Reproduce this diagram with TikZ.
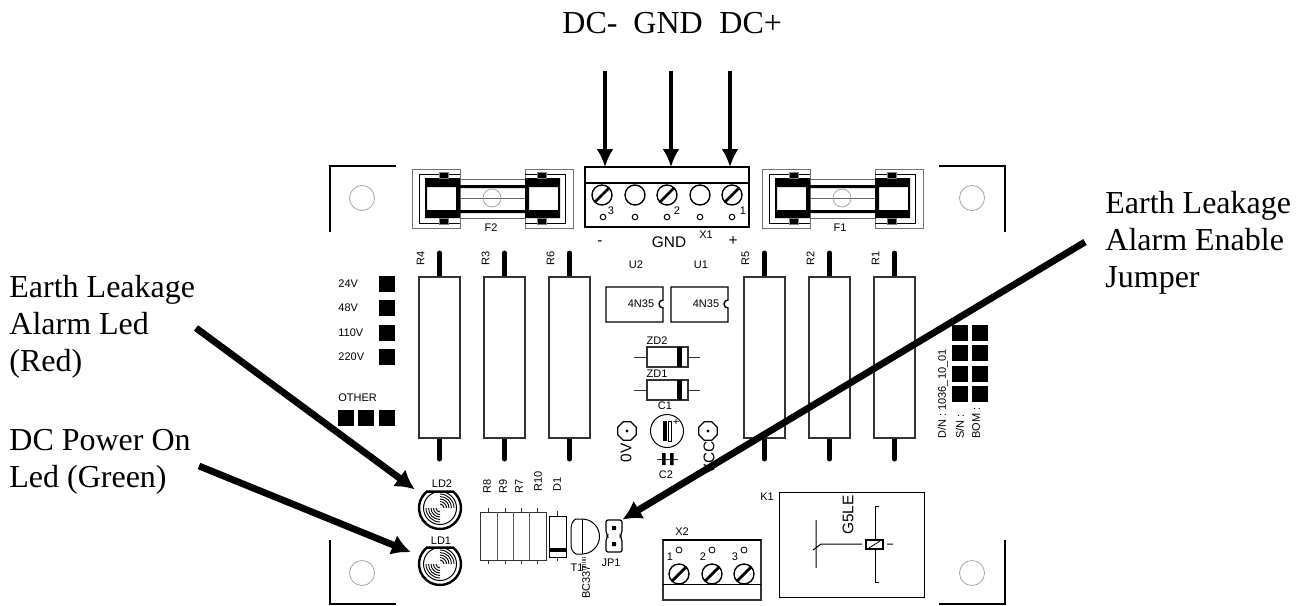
\documentclass[tikz,border=0pt]{standalone}
\usepackage{fontspec}
\setmainfont{Liberation Serif}
\setsansfont{Liberation Sans}
\usetikzlibrary{arrows.meta,shapes.geometric}

\tikzset{
  part label/.style={font=\sffamily\fontsize{5.5}{6.5}\selectfont,inner sep=0pt},
  big part label/.style={font=\sffamily\fontsize{7.7}{9}\selectfont,inner sep=0pt},
  callout/.style={font=\fontsize{16}{18.5}\selectfont,align=left,anchor=north west,inner sep=0pt},
  title node/.style={font=\fontsize{16}{18.5}\selectfont,anchor=base west,inner sep=0pt},
  outline/.style={draw=black!80,line width=.7pt},
  hole/.style={draw=black!35,line width=.4pt},
  corner/.style={line width=.75pt},
  square pad/.style={fill=black,minimum size=8pt,inner sep=0pt},
  lead/.style={line width=2.5pt,line cap=round},
  thin lead/.style={draw=black!80,line width=.5pt},
  feed arrow/.style={line width=1.6pt,-{Latex[length=9pt,width=8.5pt]}},
  pointer/.style={line width=3.4pt,-{Latex[length=9.5pt,width=10.5pt]}},
  led node/.style={circle,minimum size=21pt,inner sep=0pt},
  test pad/.style={regular polygon,regular polygon sides=8,draw,line width=.6pt,minimum size=10pt,inner sep=0pt},
  pics/screw/.style={code={
    \draw[line width=.7pt] (0,0) circle (10);
    \draw[line width=1.4pt] (-7,7) -- (7,-7);
  }},
  pics/led lamp/.style={code={
    \draw[line width=1.2pt] (-51:21) arc (-51:231:21) -- cycle;
    \draw[line width=.5pt] (0,0) circle (16.5);
    \foreach \r in {4,6.5,9,11.5,14} {
      \draw[line width=.45pt] (-90:\r) arc (-90:0:\r);
      \draw[line width=.45pt] (90:\r) arc (90:180:\r);
    }
  }},
  pics/fuse/.style={code={
    \draw[draw=black!55,line width=.5pt] (412,169) rectangle (460,228) (525,169) rectangle (573,228);
    \draw[line width=.5pt] (460,174) -- (419,174) -- (419,223) -- (460,223)
                           (525,174) -- (565,174) -- (565,223) -- (525,223);
    \fill[even odd rule] (425,178) rectangle (460,218) (427,187) rectangle (456,210);
    \fill[even odd rule] (525,178) rectangle (560,218) (529,187) rectangle (558,210);
    \draw[draw=black!50,fill=black,line width=.3pt] (439,172) rectangle (448,178) (439,218) rectangle (448,224)
                                                    (537,172) rectangle (546,178) (537,218) rectangle (546,224);
    \draw[draw=black!60,line width=.5pt] (460,179) -- (525,179) (460,198) -- (525,198) (460,218) -- (525,218);
    \fill (460,185) rectangle (525,188) (460,210) rectangle (525,213);
    \draw[hole] (492,198) circle (9);
  }}
}

\begin{document}
\begin{tikzpicture}[x=.5pt,y=-.5pt]
  \useasboundingbox (0,0) rectangle (1304,605);

  \draw[corner] (396,166) -- (330,166) -- (330,232);
  \draw[corner] (939,166) -- (1005,166) -- (1005,232);
  \draw[corner] (330,540) -- (330,604) -- (396,604);
  \draw[corner] (1005,540) -- (1005,604) -- (939,604);
  \foreach \hx/\hy in {362/198,972/198,362/573,972/573}
    \draw[hole] (\hx,\hy) circle (12.5);

  \pic at (0,0) {fuse};
  \pic at (350,0) {fuse};
  \node[part label] (f2) at (491,228) {F2};
  \node[part label] (f1) at (840,228) {F1};

  \draw[line width=.8pt] (585,167) rectangle (749,227);
  \draw[line width=.6pt] (585,183) -- (749,183);
  \foreach \sx in {602,667,732}
    \pic at (\sx,195) {screw};
  \foreach \sx in {635,700}
    \draw[line width=.7pt] (\sx,195) circle (10);
  \foreach \sx in {603,635,667,700,732}
    \draw[line width=.5pt] (\sx,217) circle (2.8);
  \node[part label] (x1 three) at (611,211) {3};
  \node[part label] (x1 two) at (677,211) {2};
  \node[part label] (x1 one) at (743,211) {1};
  \node[part label] (x1) at (706,235) {X1};
  \node[big part label] (x1 gnd) at (669,242) {GND};
  \node[big part label] (x1 minus) at (600,243) {-};
  \node[big part label] (x1 plus) at (733,241) {+};

  \foreach \rname/\rx in {R4/419,R3/484,R6/549,R5/744,R2/809,R1/874} {
    \draw[lead] (\rx+20.5,253) -- (\rx+20.5,277) (\rx+20.5,438) -- (\rx+20.5,459);
    \draw[outline,fill=white] (\rx,277) rectangle (\rx+41,438);
    \node[part label,rotate=90] (\rname) at (\rx+1.5,258) {\rname};
  }

  \foreach \vname/\vy in {24V/284,48V/308,110V/333,220V/357} {
    \node[part label,anchor=west] (v\vname) at (338,\vy) {\vname};
    \node[square pad] (pad\vname) at (387,\vy) {};
  }
  \node[part label,anchor=west] (other) at (338,398) {OTHER};
  \foreach \ox in {346,366,387}
    \node[square pad] (other\ox) at (\ox,418) {};

  \foreach \uname/\ux/\lx in {U2/606/636,U1/671/701} {
    \draw[line width=.7pt] (\ux,287) -- (\ux+57,287) -- (\ux+57,300) arc (-90:-270:4) -- (\ux+57,322) -- (\ux,322) -- cycle;
    \node[part label] (\uname) at (\lx,265) {\uname};
    \node[part label] (\uname type) at (\ux+35,304) {4N35};
  }

  \foreach \zname/\zy in {ZD2/357,ZD1/390} {
    \draw[thin lead] (634,\zy) -- (647,\zy) (688,\zy) -- (700,\zy);
    \draw[outline,line width=.6pt] (647,\zy-10) rectangle (688,\zy+10);
    \fill (677,\zy-10) rectangle (682,\zy+10);
    \node[part label] (\zname) at (657,\zy-16) {\zname};
  }

  \node[part label] (c1) at (665,406) {C1};
  \draw[line width=.5pt] (667,431) circle (16.5);
  \fill (662.5,421) rectangle (666.5,441);
  \draw[line width=.4pt] (668.5,421) rectangle (671.5,441);
  \node[part label] (c1 plus) at (676,422) {+};
  \draw[thin lead] (657,459) -- (678,459);
  \fill (662,453) rectangle (665.5,465) (670,453) rectangle (673.5,465);
  \node[part label] (c2) at (666,475) {C2};

  \node[test pad] (pad0v) at (627,431) {};
  \node[test pad] (padvcc) at (708,431) {};
  \fill (627,431) circle (1.6) (708,431) circle (1.6);
  \node[big part label,rotate=90] (zero volt) at (626,453) {0V};
  \node[big part label,rotate=90] (vcc) at (709,458) {VCC};

  \node[led node] (ld2) at (440,508) {};
  \node[led node] (ld1) at (440,564) {};
  \pic at (ld2) {led lamp};
  \pic at (ld1) {led lamp};
  \node[part label] (ld2 text) at (442,484) {LD2};
  \node[part label] (ld1 text) at (441,541) {LD1};

  \draw[outline,line width=.5pt] (480,512) rectangle (546,560);
  \foreach \dx in {497,513,529}
    \draw[draw=black!65,line width=.5pt] (\dx,512) -- (\dx,560);
  \foreach \dx in {488,505,521,537}
    \draw[thin lead] (\dx,508) -- (\dx,512) (\dx,560) -- (\dx,564);
  \node[part label,rotate=90] (r8) at (487,486) {R8};
  \node[part label,rotate=90] (r9) at (503,486) {R9};
  \node[part label,rotate=90] (r7) at (519,486) {R7};
  \node[part label,rotate=90] (r10) at (538,481) {R10};
  \node[part label,rotate=90] (d1) at (557,484) {D1};

  \draw[thin lead] (557,511) -- (557,516) (557,557) -- (557,561);
  \draw[line width=.45pt] (549,516) rectangle (566,557);
  \fill (549,548) rectangle (566,552);

  \draw[line width=.5pt] (582,519) arc (-90:90:17.5) -- (576,554) .. controls (572,552) and (571,548) .. (571,544) -- (571,529) .. controls (571,524) and (573,520) .. (576,519) -- cycle;
  \draw[line width=.5pt] (582,519) -- (582,554);
  \draw[draw=black!55,line width=2pt,dash pattern=on .35pt off .5pt] (584,557) -- (584,570);
  \node[part label] (t1) at (577,568) {T1};
  \node[part label,rotate=90] (bc337) at (586,582) {BC337};

  \node[minimum width=8pt,minimum height=16pt,inner sep=0pt] (jp1) at (614,536) {};
  \draw[line width=.6pt,rounded corners=1pt] (606,520) -- (622,520) -- (622,533) -- (620,536) -- (622,539) -- (622,552) -- (606,552) -- (606,539) -- (608,536) -- (606,533) -- cycle;
  \fill (612,526) rectangle (616,530) (612,542) rectangle (616,546);
  \node[part label] (jp1 text) at (611,563) {JP1};

  \draw[outline] (663,540) rectangle (761,600);
  \draw[line width=1.2pt] (663,540) -- (761,540);
  \draw[line width=.5pt] (663,584) -- (761,584);
  \foreach \sx/\sn/\lx in {679/1/670,712/2/703,744/3/735} {
    \pic at (\sx,574) {screw};
    \draw[line width=.4pt] (\sx,550) circle (3);
    \node[part label] (x2 \sn) at (\lx,557) {\sn};
  }
  \node[part label] (x2) at (682,532) {X2};

  \draw[line width=.5pt] (779,492) rectangle (924,597);
  \node[part label] (k1) at (767,497) {K1};
  \node[big part label,rotate=90] (g5le) at (848,515) {G5LE};
  \draw[line width=.5pt] (879,506) -- (875,506) -- (875,582) -- (879,582);
  \draw[line width=.5pt] (816,520) -- (816,568) (813,550) -- (821,544) -- (862,544) (887,544) -- (893,544);
  \draw[line width=1pt,fill=white] (866,540) rectangle (883,549);
  \draw[line width=.4pt] (869,548) -- (880,541);

  \node[part label,rotate=90,anchor=west] (dn) at (943,439) {D/N : 1036\_10\_01};
  \node[part label,rotate=90,anchor=west] (sn) at (960,439) {S/N :};
  \node[part label,rotate=90,anchor=west] (bom) at (976,439) {BOM :};
  \foreach \py in {333,353,374,394} {
    \node[square pad] (sn pad \py) at (960,\py) {};
    \node[square pad] (bom pad \py) at (980,\py) {};
  }

  \node[title node] (dc minus) at (562,33) {DC-};
  \node[title node] (gnd) at (633,33) {GND};
  \node[title node] (dc plus) at (719,33) {DC+};
  \node[callout] (red text) at (9,275) {Earth Leakage\\Alarm Led\\(Red)};
  \node[callout] (green text) at (9,429) {DC Power On\\Led (Green)};
  \node[callout] (jumper text) at (1105,191) {Earth Leakage\\Alarm Enable\\Jumper};

  \coordinate (dcm top) at (605,71);
  \coordinate (gnd top) at (671,71);
  \coordinate (dcp top) at (730,71);
  \coordinate (dcm end) at (605,167);
  \coordinate (gnd end) at (671,167);
  \coordinate (dcp end) at (730,167);
  \coordinate (red start) at (196,328);
  \coordinate (green start) at (199,466);
  \coordinate (jumper start) at (1085,242);

  \draw[feed arrow] (dcm top) -- (dcm end);
  \draw[feed arrow] (gnd top) -- (gnd end);
  \draw[feed arrow] (dcp top) -- (dcp end);
  \draw[pointer,shorten >=5pt] (red start) -- (ld2);
  \draw[pointer,shorten >=5pt] (green start) -- (ld1);
  \draw[pointer] (jumper start) -- (jp1.north east);
\end{tikzpicture}
\end{document}
